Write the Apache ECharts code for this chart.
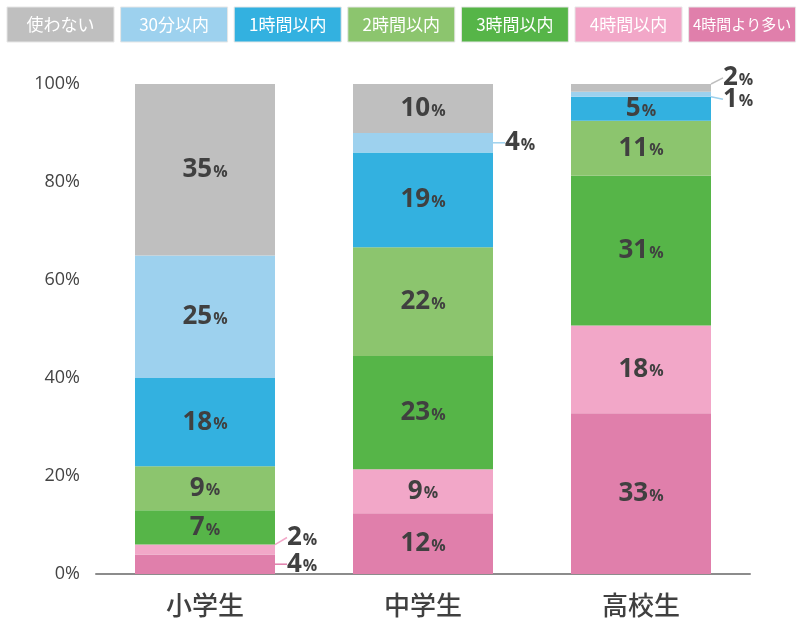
<!DOCTYPE html>
<html>
<head>
<meta charset="utf-8">
<script src="https://cdn.jsdelivr.net/npm/echarts@6/dist/echarts.min.js"></script>
<style>
  html, body { margin: 0; padding: 0; background: #fff; }
  #chartWrap { width: 800px; height: 630px; }
</style>
</head>
<body>
<div id="chartWrap"></div>
<script>
// 学年
var categories = ['小学生', '中学生', '高校生'];
// 凡例（上から）
var seriesNames = ['使わない', '30分以内', '1時間以内', '2時間以内', '3時間以内', '4時間以内', '4時間より多い'];
var colors = ['#bfbfbf', '#9dd1ee', '#33b1e0', '#8cc56e', '#56b548', '#f2a7c8', '#e07fab'];
// 各区分の割合（%）: 小学生, 中学生, 高校生
var vNone = [35, 10.0, 1.6];
var v30m = [25, 4.0, 1.0];
var v1h = [18, 19.3, 4.9];
var v2h = [9, 22.2, 11.2];
var v3h = [7, 23.1, 30.6];
var v4h = [2, 9.0, 17.9];
var vOver = [4, 12.4, 32.8];
var yTicks = [0, 20, 40, 60, 80, 100];

var values = [vNone, v30m, v1h, v2h, v3h, v4h, vOver];

// 棒の外に出すラベル [系列, 学年, dy]
var outside = [
  [5, 0, -12], [6, 0, 0],
  [1, 1, 0],
  [0, 2, -10], [1, 2, 5]
];

function isOutside(s, c) {
  for (var i = 0; i < outside.length; i++) {
    if (outside[i][0] == s && outside[i][1] == c) return outside[i];
  }
  return null;
}

var richNum = {
  n: { fontSize: 26, fontWeight: 'bold', color: '#404040', fontFamily: 'Open Sans' },
  p: { fontSize: 16, fontWeight: 'bold', color: '#404040', fontFamily: 'Open Sans', padding: [5, 0, 0, 1] }
};

// 下から積む順に系列を作る
var series = [];
for (var k = values.length - 1; k >= 0; k--) {
  (function(s) {
    var data = values[s].map(function(v, c) {
      var o = isOutside(s, c);
      if (o) {
        return {
          value: v,
          label: { position: 'right', distance: 12 },
          labelLine: { show: true, lineStyle: { color: colors[s], width: 1.5 } }
        };
      }
      return v;
    });
    series.push({
      name: seriesNames[s],
      type: 'bar',
      stack: 'total',
      barWidth: 140,
      itemStyle: { color: colors[s] },
      label: {
        show: true,
        position: 'inside',
        formatter: function(p) {
          return '{n|' + Math.round(p.value) + '}{p|%}';
        },
        rich: richNum
      },
      labelLine: { show: false },
      labelLayout: function(p) {
        var o = isOutside(s, p.dataIndex);
        if (o) return { dy: o[2] };
        return {};
      },
      data: data
    });
  })(k);
}

// 凡例ボックス
var graphics = [];
for (var i = 0; i < seriesNames.length; i++) {
  var x = 7 + i * 113.6;
  var fs = seriesNames[i].length > 6 ? 15 : 17;
  graphics.push({
    type: 'rect',
    shape: { x: x, y: 7, width: 107, height: 35 },
    style: { fill: colors[i], stroke: '#e6e6e6', lineWidth: 1 }
  });
  graphics.push({
    type: 'text',
    x: x + 53.5,
    y: 24.5,
    style: {
      text: seriesNames[i],
      fill: '#fff',
      font: fs + 'px "Noto Sans CJK JP"',
      align: 'center',
      verticalAlign: 'middle'
    }
  });
}

var myChart = echarts.init(document.getElementById('chartWrap'));
myChart.setOption({
  animation: false,
  backgroundColor: '#fff',
  graphic: graphics,
  grid: { left: 96, right: 50, top: 84, bottom: 56 },
  xAxis: {
    type: 'category',
    data: categories,
    axisLine: { lineStyle: { color: '#8c8c8c', width: 2 } },
    axisTick: { show: false },
    axisLabel: { fontSize: 26, fontWeight: 500, color: '#404040', margin: 18, fontFamily: 'Noto Sans CJK JP' }
  },
  yAxis: {
    type: 'value',
    min: yTicks[0],
    max: yTicks[yTicks.length - 1],
    interval: 20,
    axisLine: { show: false },
    axisTick: { show: false },
    splitLine: { show: false },
    axisLabel: { formatter: '{value}%', fontSize: 18, color: '#444', margin: 16, fontFamily: 'Open Sans' }
  },
  series: series
});
</script>
</body>
</html>
